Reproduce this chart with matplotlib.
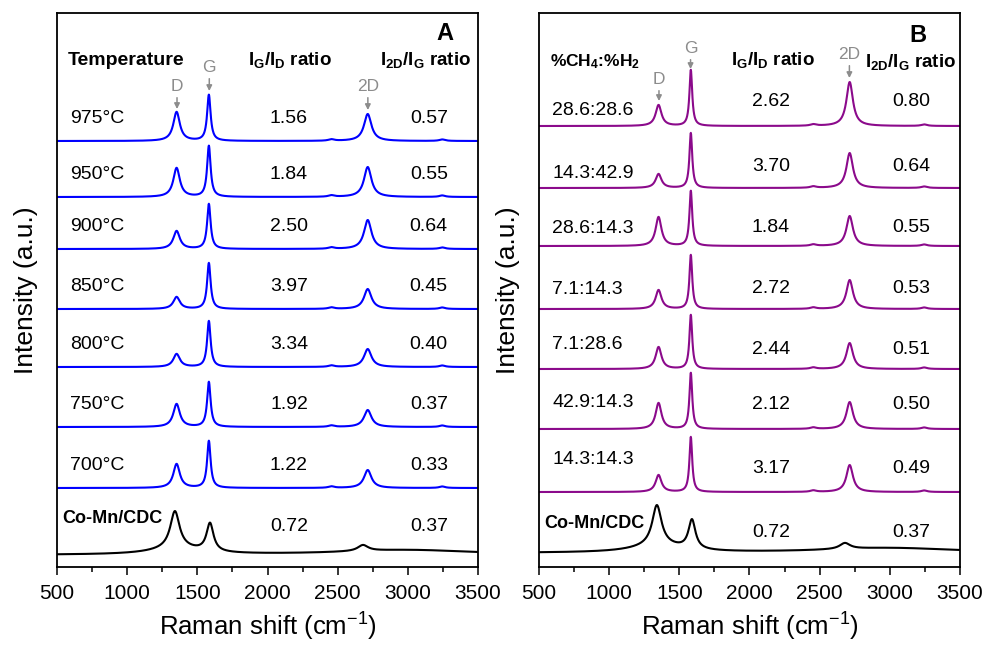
import numpy as np
import matplotlib.pyplot as plt
from matplotlib.ticker import MultipleLocator

plt.rcParams['font.family'] = ['Liberation Sans', 'DejaVu Sans']
plt.rcParams['mathtext.fontset'] = 'custom'
plt.rcParams['mathtext.rm'] = 'Liberation Sans'
plt.rcParams['mathtext.it'] = 'Liberation Sans:italic'
plt.rcParams['mathtext.bf'] = 'Liberation Sans:bold'

# ---- data ----
shift = np.arange(500, 3501, 2)

# panel A: growth temperature
temps = ['975°C', '950°C', '900°C', '850°C', '800°C', '750°C', '700°C']
ig_id_a = ['1.56', '1.84', '2.50', '3.97', '3.34', '1.92', '1.22']
i2d_ig_a = ['0.57', '0.55', '0.64', '0.45', '0.40', '0.37', '0.33']
d_height_a = [29, 29, 18, 12, 13, 23, 24]
g_height_a = [46, 51, 45, 46, 46, 45, 47]
d2_height_a = [27, 30, 29, 20, 18, 17, 18]

# panel B: gas ratio
gas = ['28.6:28.6', '14.3:42.9', '28.6:14.3', '7.1:14.3', '7.1:28.6', '42.9:14.3', '14.3:14.3']
ig_id_b = ['2.62', '3.70', '1.84', '2.72', '2.44', '2.12', '3.17']
i2d_ig_b = ['0.80', '0.64', '0.55', '0.53', '0.51', '0.50', '0.49']
d_height_b = [21, 14, 29, 19, 22, 26, 17]
g_height_b = [56, 55, 55, 54, 54, 56, 55]
d2_height_b = [44, 35, 30, 29, 26, 27, 27]

# bare support Co-Mn/CDC
cdc_ratios = ['0.72', '0.37']
cdc_pos = [1340, 1590, 1350, 2680, 3000]
cdc_hwhm = [40, 30, 220, 45, 600]
cdc_height_a = [37, 28, 6, 6, 5]
cdc_height_b = [40, 29, 7, 6, 5]

# peak centres / half widths of grown carbon: D, G, 2D, D+D'', 2D'
peak_pos = [1352, 1582, 2714, 2455, 3245]
hwhm_a = [28, 15, 32, 25, 25]
hwhm_b = [25, 12, 28, 25, 25]
small_bump = 1.5

# stacking (vertical offsets) and label heights
offs_a = [426, 370, 318, 258, 200, 140, 79]
offs_b = [441, 379, 321, 258, 198, 138, 75]
lab_dy_b = [16, 15, 18, 20, 25, 27, 33]
val_dy_b = [25, 22, 19, 21, 20, 25, 24]


def spectrum(pos, hwhm, heights):
    y = np.zeros_like(shift, dtype=float)
    for c, w, h in zip(pos, hwhm, heights):
        y += h / (1 + ((shift - c) / w) ** 2)
    return y


def style(ax):
    ax.set_xlim(500, 3500)
    ax.set_ylim(0, 554)
    ax.set_yticks([])
    ax.xaxis.set_major_locator(MultipleLocator(500))
    ax.xaxis.set_minor_locator(MultipleLocator(250))
    ax.tick_params(axis='x', which='major', direction='out', length=6, width=1.1, labelsize=15, pad=6)
    ax.tick_params(axis='x', which='minor', direction='out', length=3.5, width=1.1)
    ax.tick_params(top=False, which='both')
    for s in ax.spines.values():
        s.set_linewidth(1.3)
    ax.set_xlabel('Raman shift (cm$^{-1}$)', fontsize=18.5, labelpad=6)
    ax.set_ylabel('Intensity (a.u.)', fontsize=19, labelpad=14)


def peak_label(ax, txt, x, ytext, ytip):
    ax.annotate(txt, xy=(x, ytip), xytext=(x, ytext), ha='center', va='center',
                fontsize=12.5, color='#8c8c8c',
                arrowprops=dict(arrowstyle='-|>', color='#8c8c8c', lw=1.1,
                                mutation_scale=8, shrinkA=1, shrinkB=0))


fig = plt.figure(figsize=(9.85, 6.45), dpi=100)
ax_a = fig.add_axes([0.0579, 0.1209, 0.4274, 0.8589])
ax_b = fig.add_axes([0.5472, 0.1209, 0.4274, 0.8589])

header_a = r'$\mathbf{I_G/I_D}$ ratio'
header_b = r'$\mathbf{I_{2D}/I_G}$ ratio'
hsize = 13.5

# ---- panel A ----
for i in range(len(temps)):
    y = spectrum(peak_pos, hwhm_a, [d_height_a[i], g_height_a[i], d2_height_a[i], small_bump, small_bump])
    ax_a.plot(shift, y + offs_a[i], color='#0000ff', lw=1.5)
    ax_a.text(593, offs_a[i] + 23, temps[i], fontsize=14, ha='left', va='center')
    ax_a.text(2153, offs_a[i] + 23, ig_id_a[i], fontsize=14, ha='center', va='center')
    ax_a.text(3149, offs_a[i] + 23, i2d_ig_a[i], fontsize=14, ha='center', va='center')
ax_a.plot(shift, spectrum(cdc_pos, cdc_hwhm, cdc_height_a) + 12, color='black', lw=1.5)
ax_a.text(536, 12 + 37, 'Co-Mn/CDC', fontsize=13, fontweight='bold', ha='left', va='center')
ax_a.text(2153, 12 + 29, cdc_ratios[0], fontsize=14, ha='center', va='center')
ax_a.text(3149, 12 + 29, cdc_ratios[1], fontsize=14, ha='center', va='center')

ax_a.text(578, 507, 'Temperature', fontsize=14, fontweight='bold', ha='left', va='center')
ax_a.text(2160, 507, header_a, fontsize=hsize, fontweight='bold', ha='center', va='center')
ax_a.text(3123, 507, header_b, fontsize=hsize, fontweight='bold', ha='center', va='center')
ax_a.text(3265, 534, 'A', fontsize=17, fontweight='bold', ha='center', va='center')
peak_label(ax_a, 'D', 1355, 481, 458)
peak_label(ax_a, 'G', 1585, 500, 476)
peak_label(ax_a, '2D', 2715, 481, 457)
style(ax_a)

# ---- panel B ----
for i in range(len(gas)):
    y = spectrum(peak_pos, hwhm_b, [d_height_b[i], g_height_b[i], d2_height_b[i], small_bump, small_bump])
    ax_b.plot(shift, y + offs_b[i], color='#8b0a8b', lw=1.5)
    ax_b.text(593, offs_b[i] + lab_dy_b[i], gas[i], fontsize=14, ha='left', va='center')
    ax_b.text(2153, offs_b[i] + val_dy_b[i], ig_id_b[i], fontsize=14, ha='center', va='center')
    ax_b.text(3151, offs_b[i] + val_dy_b[i], i2d_ig_b[i], fontsize=14, ha='center', va='center')
ax_b.plot(shift, spectrum(cdc_pos, cdc_hwhm, cdc_height_b) + 14, color='black', lw=1.5)
ax_b.text(536, 14 + 30, 'Co-Mn/CDC', fontsize=13, fontweight='bold', ha='left', va='center')
ax_b.text(2153, 14 + 21, cdc_ratios[0], fontsize=14, ha='center', va='center')
ax_b.text(3151, 14 + 21, cdc_ratios[1], fontsize=14, ha='center', va='center')

ax_b.text(578, 505, r'%CH$_\mathbf{4}$:%H$_\mathbf{2}$', fontsize=12.5, fontweight='bold', ha='left', va='center')
ax_b.text(2168, 507, header_a, fontsize=hsize, fontweight='bold', ha='center', va='center')
ax_b.text(3145, 505, header_b, fontsize=hsize, fontweight='bold', ha='center', va='center')
ax_b.text(3200, 532, 'B', fontsize=17, fontweight='bold', ha='center', va='center')
peak_label(ax_b, 'D', 1355, 488, 466)
peak_label(ax_b, 'G', 1580, 519, 498)
peak_label(ax_b, '2D', 2712, 513, 489)
style(ax_b)

fig.savefig('out.png', dpi=100)
